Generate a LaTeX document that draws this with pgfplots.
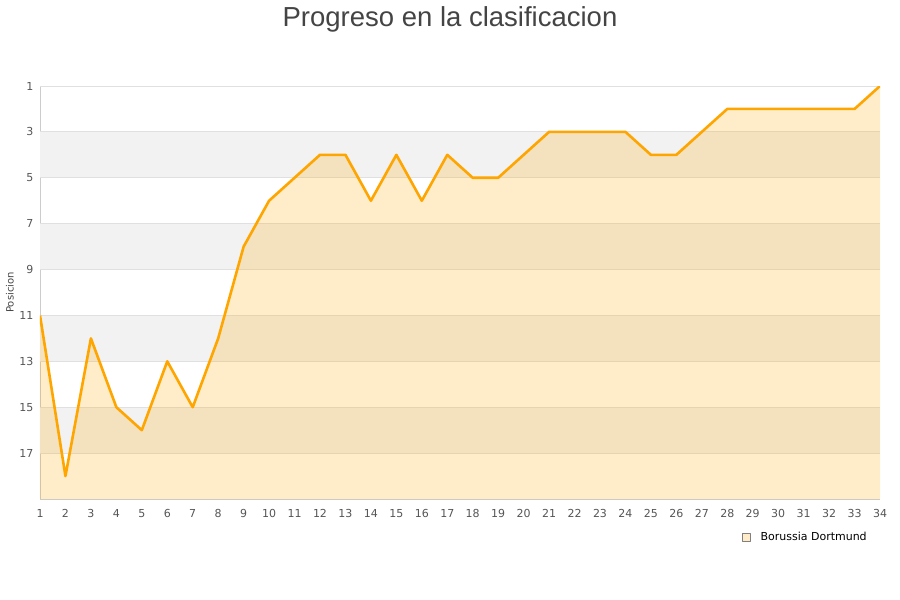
\documentclass[border=0pt]{standalone}
\usepackage{pgfplots}
\pgfplotsset{compat=1.18}
\usepackage{fontspec}
\setmainfont{DejaVu Sans}
\newfontfamily\titlefont{Liberation Sans}

\definecolor{lineorange}{HTML}{FFA500}
\definecolor{ticktext}{HTML}{555555}
\definecolor{axisgray}{HTML}{CCCCCC}
\definecolor{gridgray}{HTML}{E0E0E0}
\definecolor{bandgray}{HTML}{F2F2F2}
\definecolor{titlegray}{HTML}{444444}

\begin{document}
\begin{tikzpicture}
\path[use as bounding box] (0,0) rectangle (900pt,600pt);
\begin{axis}[
    at={(40pt,101pt)}, anchor=south west,
    scale only axis,
    width=840pt, height=413pt,
    xmin=1, xmax=34,
    ymin=1, ymax=19,
    y dir=reverse,
    xtick={1,...,34},
    ytick={1,3,...,17},
    axis x line*=bottom,
    axis y line*=left,
    axis line style={draw=axisgray, line width=0.8pt},
    tick style={draw=none},
    tick label style={font=\fontsize{11}{13}\selectfont, text=ticktext},
    /pgf/number format/assume math mode=true,
    xticklabel style={yshift=-7pt},
    yticklabel style={xshift=-3pt},
    ylabel={Posicion},
    ylabel style={at={(axis description cs:-0.0357,0.5)}, anchor=center,
                  font=\fontsize{10}{12}\selectfont, text=titlegray},
    title={\titlefont Progreso en la clasificacion},
    title style={at={(axis description cs:0.5,1)}, anchor=center,
                 yshift=61pt, xshift=-10pt,
                 font=\fontsize{27.5}{32}\selectfont, text=titlegray},
    legend style={at={(axis description cs:0.988,-0.092)}, anchor=east, draw=none, fill=none,
                  font=\fontsize{11}{13}\selectfont, text=black,
                  inner sep=1pt},
    legend cell align=left,
]
% alternating background bands and grid lines
\fill[bandgray] (axis cs:1,3) rectangle (axis cs:34,5);
\fill[bandgray] (axis cs:1,7) rectangle (axis cs:34,9);
\fill[bandgray] (axis cs:1,11) rectangle (axis cs:34,13);
\fill[bandgray] (axis cs:1,15) rectangle (axis cs:34,17);
\draw[gridgray, line width=0.8pt] (axis cs:1,1) -- (axis cs:34,1);
\draw[gridgray, line width=0.8pt] (axis cs:1,3) -- (axis cs:34,3);
\draw[gridgray, line width=0.8pt] (axis cs:1,5) -- (axis cs:34,5);
\draw[gridgray, line width=0.8pt] (axis cs:1,7) -- (axis cs:34,7);
\draw[gridgray, line width=0.8pt] (axis cs:1,9) -- (axis cs:34,9);
\draw[gridgray, line width=0.8pt] (axis cs:1,11) -- (axis cs:34,11);
\draw[gridgray, line width=0.8pt] (axis cs:1,13) -- (axis cs:34,13);
\draw[gridgray, line width=0.8pt] (axis cs:1,15) -- (axis cs:34,15);
\draw[gridgray, line width=0.8pt] (axis cs:1,17) -- (axis cs:34,17);

% area under the position line, closed at the bottom (position 19)
\addplot[fill=lineorange, fill opacity=0.21, draw=none, forget plot] coordinates {
  (1,11) (2,18) (3,12) (4,15) (5,16) (6,13) (7,15) (8,12) (9,8) (10,6)
  (11,5) (12,4) (13,4) (14,6) (15,4) (16,6) (17,4) (18,5) (19,5) (20,4)
  (21,3) (22,3) (23,3) (24,3) (25,4) (26,4) (27,3) (28,2) (29,2) (30,2)
  (31,2) (32,2) (33,2) (34,1) (34,19) (1,19)
} -- cycle;
\addplot[lineorange, line width=2.6pt, line join=round,
  legend image code/.code={
    \draw[draw=gray, fill=lineorange!22, line width=0.5pt]
      (0pt,-4pt) rectangle (8pt,4pt);
    \path (15pt,0pt);
  }] coordinates {
  (1,11) (2,18) (3,12) (4,15) (5,16) (6,13) (7,15) (8,12) (9,8) (10,6)
  (11,5) (12,4) (13,4) (14,6) (15,4) (16,6) (17,4) (18,5) (19,5) (20,4)
  (21,3) (22,3) (23,3) (24,3) (25,4) (26,4) (27,3) (28,2) (29,2) (30,2)
  (31,2) (32,2) (33,2) (34,1)
};
\addlegendentry{Borussia Dortmund}
\end{axis}
\end{tikzpicture}
\end{document}
